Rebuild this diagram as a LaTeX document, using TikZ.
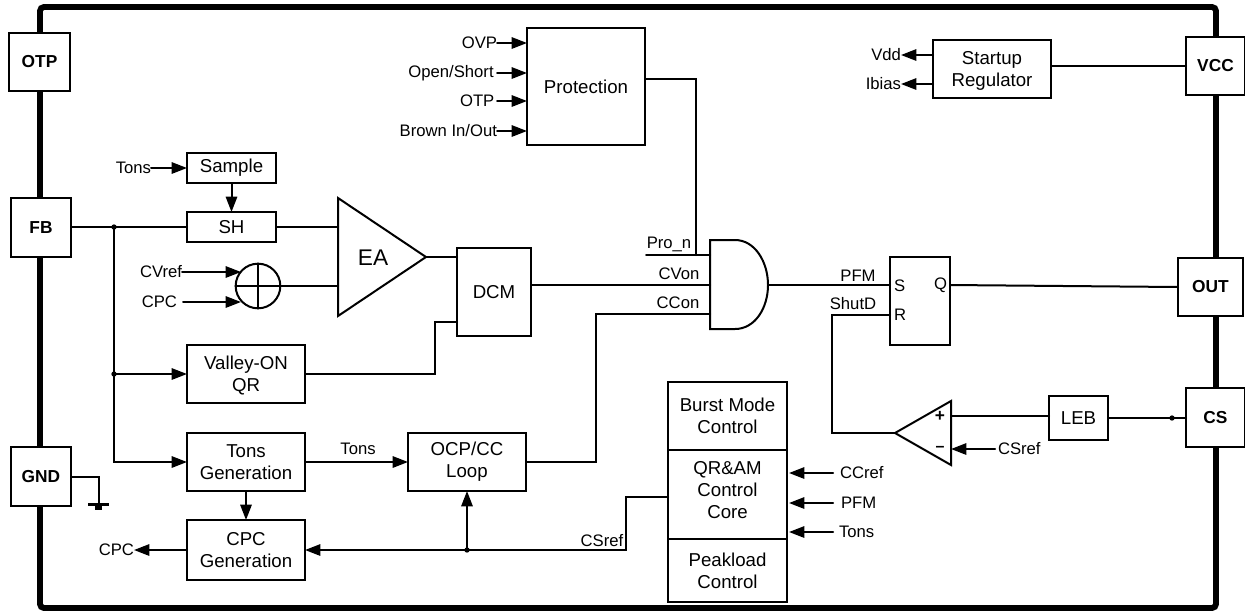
\documentclass[tikz,border=0pt]{standalone}
\usepackage{fontspec}
\setmainfont{Liberation Sans}
\usetikzlibrary{arrows.meta,calc}
\tikzset{
  x=0.75pt,y=-0.75pt,
  wire/.style={line width=1.5pt,line cap=round,line join=miter},
  arr/.style={wire,-{Triangle[length=11.5pt,width=8.5pt]}},
  boxn/.style={draw,line width=1.5pt,fill=white,align=center,inner sep=0pt,outer sep=0pt,font=\fontsize{14}{16.5}\selectfont},
  thinbox/.style={boxn,line width=1pt},
  pin/.style={boxn,font=\fontsize{13}{15}\bfseries\selectfont},
  lab/.style={inner sep=0pt,outer sep=0pt,font=\fontsize{12.5}{14}\selectfont},
  jdot/.style={circle,fill=black,inner sep=0pt,minimum size=4pt},
}
\newcommand{\bx}[7]{%
  \pgfmathsetmacro{\bxw}{(#4-#2)*0.75}%
  \pgfmathsetmacro{\bxh}{(#5-#3)*0.75}%
  \node[#6,minimum width=\bxw pt,minimum height=\bxh pt] (#1) at ({(#2+#4)/2},{(#3+#5)/2}) {#7};}
\begin{document}
\begin{tikzpicture}
\useasboundingbox (0,0) rectangle (1245,612);
\fill[white] (0,0) rectangle (1245,612);
% outer frame
\draw[line width=4.4pt,rounded corners=3pt] (40,7) rectangle (1216,608);
% pins
\bx{otp}{9}{33}{70}{91}{pin}{OTP}
\bx{fb}{11}{198}{71}{257}{pin}{FB}
\bx{gnd}{11}{447}{71}{506}{pin}{GND}
\bx{vcc}{1186}{37}{1245}{95}{pin}{VCC}
\bx{out}{1178}{258}{1243}{316}{pin}{OUT}
\bx{cs}{1186}{388}{1245}{447}{pin}{CS}
% blocks
\bx{prot}{527}{28}{645}{145}{boxn}{Protection}
\bx{start}{933}{40}{1051}{98}{boxn}{\rule{0pt}{13pt}Startup\\Regulator}
\bx{sample}{187}{153}{276}{183}{boxn}{Sample}
\bx{sh}{187}{212}{276}{242}{boxn}{SH}
\bx{valley}{187}{345}{305}{403}{boxn}{\rule{0pt}{12pt}Valley-ON\\QR}
\bx{tons}{187}{433}{305}{491}{boxn}{Tons\\Generation}
\bx{cpc}{187}{520}{305}{580}{boxn}{CPC\\Generation}
\bx{ocp}{408}{433}{526}{491}{boxn}{OCP/CC\\Loop}
\bx{dcm}{457}{248}{531}{336}{boxn}{DCM}
\bx{leb}{1049}{396}{1108}{440}{boxn}{LEB}
\bx{sr}{890}{257}{950}{345}{boxn}{}
\bx{burst}{668}{382}{787}{450}{thinbox}{Burst Mode\\Control}
\bx{core}{668}{450}{787}{539}{thinbox}{QR\&AM\\Control\\Core\rule[-6.5pt]{0pt}{0pt}}
\bx{peak}{668}{539}{787}{602}{thinbox}{Peakload\\Control}
\draw[wire] (burst.north west) rectangle (peak.south east);
% adder
\node[draw,circle,line width=1.5pt,minimum size=33.5pt,inner sep=0pt,outer sep=0pt] (add) at (258,286) {};
\draw[wire] (add.north) -- (add.south);
\draw[wire] (add.west) -- (add.east);
% EA
\coordinate (eaA) at (338,227);
\coordinate (eaB) at (338,286);
\coordinate (eaO) at (426,257);
\draw[wire,line join=miter] (338,198) -- (eaO) -- (338,316) -- cycle;
\node[font=\fontsize{17}{20}\selectfont,inner sep=0pt] (ea) at (373,258) {EA};
% AND gate
\draw[wire] (710,240) -- (735,240) .. controls (755,240) and (768,262) .. (768,285) .. controls (768,308) and (755,329) .. (735,329) -- (710,329) -- cycle;
\coordinate (andO) at (768,285);
\coordinate (andA) at (710,255);
\coordinate (andB) at (710,285);
\coordinate (andC) at (710,314);
% comparator
\coordinate (cmpO) at (895,433);
\coordinate (cmpP) at (951,416);
\coordinate (cmpN) at (951,449);
\draw[wire] (cmpO) -- (951,401) -- (951,465) -- cycle;
\node[font=\fontsize{13}{14}\bfseries\selectfont,inner sep=0pt] (cmpplus) at (940,416) {+};
\node[font=\fontsize{12}{14}\bfseries\selectfont,inner sep=0pt] (cmpminus) at (940,449) {–};
% wires
\coordinate (j1) at (114,227);
\coordinate (j2) at (114,374);
\coordinate (j3) at (467,550);
\coordinate (j4) at (1172,418);
\draw[wire] (fb.east |- sh.west) -- (sh.west);
\draw[wire] (j1) -- (j2);
\draw[arr] (j2) -- (valley.west);
\draw[arr] (j2) |- (tons.west);
\node[jdot] (d1) at (j1) {};
\node[jdot] (d2) at (j2) {};
\draw[arr] (sample.south) -- (sh.north);
\draw[wire] (sh.east) -- (eaA);
\draw[wire] (add.east) -- (eaB);
\draw[wire] (eaO) -- (dcm.west |- eaO);
\coordinate (dcmV) at (457,322);
\draw[wire] (valley.east) -| (435,322) -- (dcmV);
\coordinate (dcmOut) at (531,285);
\draw[wire] (dcmOut) -- (andB);
\draw[wire] (ocp.east) -- ++(70,0) |- (andC);
\coordinate (proN) at (646,255);
\draw[wire] (proN) -- (andA);
\coordinate (protO) at (645,79);
\coordinate (protJ) at (696,255);
\draw[wire] (protO) -| (protJ);
\coordinate (srS) at (890,285);
\coordinate (srR) at (890,315);
\coordinate (srQ) at (950,285);
\draw[wire] (andO) -- (srS);
\draw[wire] (srQ) -- (out.west);
\draw[wire] (srR) -- (832,315) |- (cmpO);
\draw[wire] (cmpP) -- (leb.west |- cmpP);
\draw[wire] (leb.east) -- (leb.east -| cs.west);
\node[jdot] (d4) at (j4) {};
\coordinate (csrefIn) at (995,449);
\draw[arr] (csrefIn) -- (cmpN);
\draw[wire] (start.east |- vcc.west) -- (vcc.west);
\draw[arr] (tons.south) -- (cpc.north);
\draw[arr] (tons.east) -- (ocp.west);
\coordinate (coreL) at (668,497);
\draw[arr] (coreL) -- (626,497) |- (cpc.east);
\node[jdot] (d3) at (j3) {};
\draw[arr] (j3) -- (ocp.south -| j3);
% gnd
\coordinate (gndB) at (99,504);
\draw[wire] (gnd.east) -- (99,476.5) -- (gndB);
\draw[line width=2pt] (88,504.5) -- (109,504.5);
\draw[line width=3pt] (95,508) -- (102,508);
% outputs
\node[lab,anchor=east] (lcpc) at (134,550) {CPC};
\draw[arr] (cpc.west) -- (lcpc.east);
\node[lab,anchor=east] (ltons1) at (151,168) {Tons};
\draw[arr] (ltons1.east) -- (sample.west);
\node[lab,anchor=east] (lcv) at (182,272) {CVref};
\coordinate (addA) at (241,272);
\draw[arr] (lcv.east) -- (addA);
\node[lab,anchor=east,outer xsep=4.5pt] (lcp) at (183,302) {CPC};
\coordinate (addB) at (241,302);
\draw[arr] (lcp.east) -- (addB);
\node[lab] (ltons2) at (358,449) {Tons};
\node[lab,anchor=east] (lovp) at (497,43) {OVP};
\node[lab,anchor=east,outer xsep=2.5pt] (los) at (497,73) {Open/Short};
\node[lab,anchor=east,outer xsep=2pt] (lotp) at (497,101) {OTP};
\node[lab,anchor=east] (lbr) at (497,131) {Brown In/Out};
\foreach \n/\y in {lovp/43,los/73,lotp/101,lbr/131}{\draw[arr] (\n.east) -- (527,\y);}
\node[lab,anchor=east] (lvdd) at (901,55) {Vdd};
\node[lab,anchor=east] (libias) at (901,84) {Ibias};
\draw[arr] (start.west |- lvdd.east) -- (lvdd.east);
\draw[arr] (start.west |- libias.east) -- (libias.east);
\node[lab,anchor=west] (lccref) at (840,473) {CCref};
\node[lab,anchor=west] (lpfm) at (841,503) {PFM};
\node[lab,anchor=west] (ltons3) at (839,532) {Tons};
\draw[arr] (833,473) -- (789,473);
\draw[arr] (833,503) -- (789,503);
\draw[arr] (833,532) -- (789,532);
\node[lab,anchor=west] (lcsr) at (998,449) {CSref};
\node[lab] (lcsr2) at (602,541) {CSref};
% net labels
\node[lab] (lpro) at (669,244) {Pro\_n};
\node[lab] (lcvon) at (679,274) {CVon};
\node[lab] (lccon) at (678,303) {CCon};
\node[lab] (lpf) at (858,276) {PFM};
\node[lab] (lsd) at (853,304) {ShutD};
\node[lab,anchor=west] (ss) at (894,286) {S};
\node[lab,anchor=west] (sr1) at (894,315) {R};
\node[lab,anchor=east] (sq) at (947,285) {Q};
\end{tikzpicture}
\end{document}
